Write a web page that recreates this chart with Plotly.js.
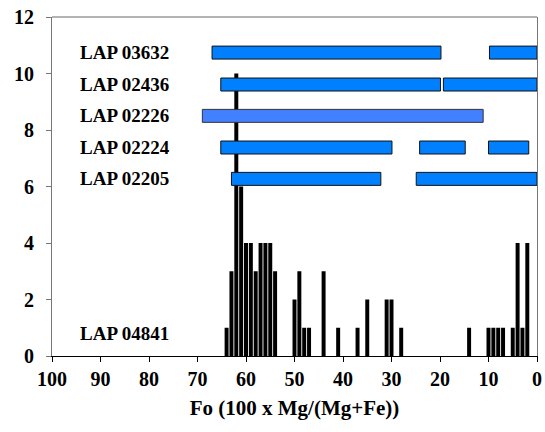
<!DOCTYPE html>
<html>
<head>
<meta charset="utf-8">
<script src="https://cdn.plot.ly/plotly-3.0.1.min.js"></script>
<style>html,body{margin:0;padding:0;background:#fff;}#chart{width:545px;height:432px;}</style>
</head>
<body>
<div id="chart"></div>
<script>
// Histogram of LAP 04841 olivine Fo values
const histFo    = [64, 63, 62, 61, 60, 59, 58, 57, 56, 55, 54, 50, 49, 48, 47, 44, 41, 37, 35, 31, 30, 28, 14, 10, 9, 8, 7, 5, 4, 3, 2];
const histCount = [1, 3, 10, 6, 4, 4, 3, 4, 4, 4, 3, 2, 3, 1, 1, 3, 1, 1, 2, 2, 2, 1, 1, 1, 1, 1, 1, 1, 4, 1, 4];

// Fo ranges of other samples
const samples     = ['LAP 03632', 'LAP 02436', 'LAP 02226', 'LAP 02224', 'LAP 02205'];
const sampleLevel = [10.74, 9.61, 8.5, 7.38, 6.27];
const segSample   = ['LAP 03632', 'LAP 03632', 'LAP 02436', 'LAP 02436', 'LAP 02226', 'LAP 02224', 'LAP 02224', 'LAP 02224', 'LAP 02205', 'LAP 02205'];
const segFrom     = [67, 9.8, 65.2, 19.3, 69, 65.2, 24.2, 10, 63, 24.9];
const segTo       = [19.8, 0, 19.9, 0, 11.1, 29.9, 14.8, 1.7, 32.2, 0];

const histLabel = 'LAP 04841';
const xTicks = [100, 90, 80, 70, 60, 50, 40, 30, 20, 10, 0];
const yTicks = [0, 2, 4, 6, 8, 10, 12];

const FAM = 'Liberation Serif, Times New Roman, serif';
function font(size) { return {family: FAM, size: size, color: '#000', weight: 700}; }

const traces = [{
  type: 'bar', x: histFo, y: histCount, width: 0.82,
  marker: {color: '#000', line: {width: 0}}, hoverinfo: 'skip', showlegend: false
}];

samples.forEach(function (s, i) {
  const idx = segSample.map(function (v, j) { return v === s ? j : -1; }).filter(function (j) { return j >= 0; });
  const light = s === 'LAP 02226';
  traces.push({
    type: 'bar', orientation: 'h',
    y: idx.map(function () { return sampleLevel[i]; }),
    base: idx.map(function (j) { return segTo[j]; }),
    x: idx.map(function (j) { return segFrom[j] - segTo[j]; }),
    width: 0.46,
    marker: {color: light ? '#4280FF' : '#0080FF', line: {color: light ? '#333' : '#111', width: 1}},
    hoverinfo: 'skip', showlegend: false
  });
});

const annotations = samples.map(function (s, i) {
  return {x: 94.6, y: sampleLevel[i], xref: 'x', yref: 'y', text: '<b>' + s + '</b>', showarrow: false,
          xanchor: 'left', yanchor: 'middle', font: font(19)};
});
annotations.push({x: 94.6, y: 0.81, xref: 'x', yref: 'y', text: '<b>' + histLabel + '</b>', showarrow: false,
                  xanchor: 'left', yanchor: 'middle', font: font(19)});

const layout = {
  width: 545, height: 432,
  margin: {l: 52, r: 8, t: 17, b: 76},
  paper_bgcolor: '#fff', plot_bgcolor: '#fff',
  barmode: 'overlay',
  showlegend: false,
  font: {family: FAM, size: 19, color: '#000'},
  xaxis: {
    range: [100, 0], tickmode: 'array', tickvals: xTicks, ticktext: xTicks.map(function (v) { return '<b>' + v + '</b>'; }),
    showgrid: false, zeroline: false, showline: true, linecolor: '#000', linewidth: 1,
    ticks: 'outside', ticklen: 5, tickcolor: '#000', tickfont: font(20),
    title: {text: '<b>Fo (100 x Mg/(Mg+Fe))</b>', font: font(21), standoff: 11}
  },
  yaxis: {
    range: [0, 12], tickmode: 'array', tickvals: yTicks, ticktext: yTicks.map(function (v) { return '<b>' + v + '</b>'; }),
    showgrid: false, zeroline: false, showline: true, linecolor: '#777', linewidth: 1, mirror: true,
    ticks: 'outside', ticklen: 5, tickcolor: '#777', tickfont: font(20), ticklabelstandoff: 8
  },
  shapes: [{type: 'line', xref: 'paper', yref: 'paper', x0: 0, x1: 1, y0: 1, y1: 1, line: {color: '#666', width: 1}}],
  annotations: annotations
};

Plotly.newPlot('chart', traces, layout, {staticPlot: true, displayModeBar: false});
</script>
</body>
</html>
